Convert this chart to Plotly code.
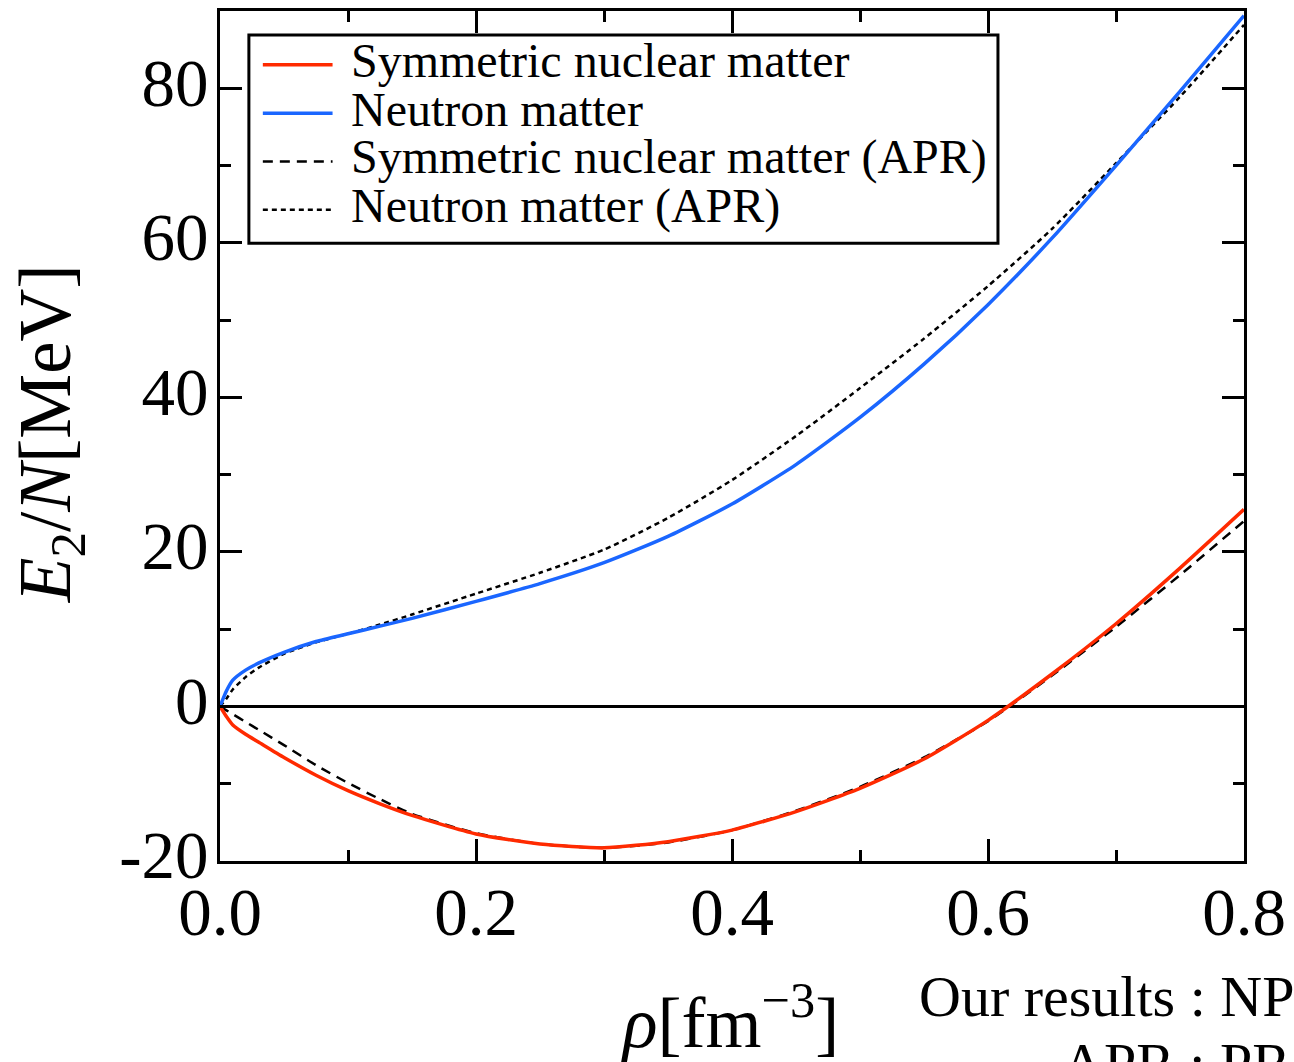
import plotly.graph_objects as go

# Density grid (fm^-3)
rho = [0.0, 0.005, 0.01, 0.02, 0.03, 0.05, 0.075, 0.1, 0.125, 0.15, 0.2, 0.25,
       0.3, 0.35, 0.4, 0.45, 0.5, 0.55, 0.6, 0.65, 0.7, 0.75, 0.8]

# Energy per nucleon E_2/N (MeV)
snm_ours = [0.0, -1.3, -2.4, -3.6, -4.6, -6.6, -8.9, -10.9, -12.6, -14.1, -16.5, -17.8,
            -18.3, -17.5, -16.0, -13.6, -10.6, -6.8, -1.8, 4.2, 10.7, 17.9, 25.5]
pnm_ours = [0.0, 2.0, 3.4, 4.7, 5.6, 7.0, 8.4, 9.4, 10.4, 11.4, 13.6, 15.9,
            18.6, 22.0, 26.2, 31.3, 37.4, 44.3, 52.0, 60.6, 70.0, 79.6, 89.4]
snm_apr = [0.0, -0.5, -1.0, -2.0, -3.0, -5.0, -7.6, -9.9, -12.0, -13.9, -16.4, -17.8,
           -18.3, -17.6, -16.0, -13.5, -10.4, -6.6, -1.9, 4.0, 10.3, 17.0, 24.0]
pnm_apr = [0.0, 1.0, 2.2, 3.8, 5.0, 6.8, 8.3, 9.4, 10.6, 11.9, 14.6, 17.3,
           20.3, 24.4, 29.3, 35.0, 41.2, 47.6, 54.4, 61.8, 70.3, 78.9, 88.2]

x_ticks = [0.0, 0.2, 0.4, 0.6, 0.8]
y_ticks = [-20, 0, 20, 40, 60, 80]
y_ticktext = ["-20", "0", "20", "40", "60", "80"]

series_names = ["Symmetric nuclear matter", "Neutron matter",
                "Symmetric nuclear matter (APR)", "Neutron matter (APR)"]

RED = "#ff2a00"
BLUE = "#1a66ff"
FONT = "Liberation Serif, Times New Roman, serif"

styles = [
    dict(color=RED, width=3.5, dash="solid"),
    dict(color=BLUE, width=3.5, dash="solid"),
    dict(color="black", width=2.5, dash="10px,7px"),
    dict(color="black", width=2.5, dash="5px,4px"),
]
series = [snm_ours, pnm_ours, snm_apr, pnm_apr]

fig = go.Figure()
# APR curves underneath, our results on top
for idx in [2, 3, 0, 1]:
    fig.add_trace(go.Scatter(
        x=rho, y=series[idx], mode="lines", name=series_names[idx],
        line=dict(shape="spline", smoothing=0.6, **styles[idx]),
        showlegend=False,
    ))

axis_common = dict(
    showline=True, linewidth=3, linecolor="black", mirror="ticks",
    ticks="inside", ticklen=22, tickwidth=3, tickcolor="black",
    showgrid=False,
    tickfont=dict(family=FONT, size=67, color="black"),
)

fig.update_xaxes(
    range=[0, 0.8], tickvals=x_ticks, tickformat=".1f", zeroline=False,
    minor=dict(dtick=0.1, tick0=0, ticks="inside", ticklen=11, tickwidth=3,
               tickcolor="black", showgrid=False),
    ticklabelstandoff=-9,
    **axis_common,
)
fig.update_yaxes(
    range=[-20, 90], tickvals=y_ticks, ticktext=y_ticktext,
    zeroline=True, zerolinecolor="black", zerolinewidth=3,
    minor=dict(dtick=10, tick0=0, ticks="inside", ticklen=11, tickwidth=3,
               tickcolor="black", showgrid=False),
    ticklabelstandoff=-5, ticklabelshift=-6,
    **axis_common,
)

# Plot-area geometry in pixels (for paper-coordinate placement)
L, R, T, B = 220, 1248, 8, 861
W, H = R - L, B - T


def px(x):
    return (x - L) / W


def py(y):
    return (B - y) / H


shapes = []
annotations = []

# Legend frame
shapes.append(dict(type="rect", xref="paper", yref="paper",
                   x0=px(249), x1=px(1001), y0=py(241), y1=py(32),
                   line=dict(color="black", width=3), fillcolor="white", layer="above"))
row_y = [62, 110.5, 159, 207.5]
for i, name in enumerate(series_names):
    st = styles[i]
    shapes.append(dict(type="line", xref="paper", yref="paper",
                       x0=px(263), x1=px(333), y0=py(row_y[i]), y1=py(row_y[i]),
                       line=dict(color=st["color"], width=st["width"], dash=st["dash"]),
                       layer="above"))
    annotations.append(dict(text=name, xref="paper", yref="paper",
                            x=px(350), y=py(row_y[i] - 4), xanchor="left", yanchor="middle",
                            showarrow=False,
                            font=dict(family=FONT, size=48, color="black")))

# Axis titles
annotations.append(dict(text="<i>ρ</i>[fm<sup>−3</sup>]", xref="paper", yref="paper",
                        x=px(732), y=py(1018), xanchor="center", yanchor="middle",
                        showarrow=False, font=dict(family=FONT, size=72, color="black")))
annotations.append(dict(text="<i>E</i><sub>2</sub>/<i>N</i>[MeV]", xref="paper", yref="paper",
                        x=px(50), y=py(432), xanchor="center", yanchor="middle",
                        textangle=-90, showarrow=False,
                        font=dict(family=FONT, size=73, color="black")))

# Caption lines at the lower right
annotations.append(dict(text="Our results : NP", xref="paper", yref="paper",
                        x=px(920), y=py(997), xanchor="left", yanchor="middle",
                        showarrow=False, font=dict(family=FONT, size=58, color="black")))
annotations.append(dict(text="APR : PR", xref="paper", yref="paper",
                        x=px(1063), y=py(1064), xanchor="left", yanchor="middle",
                        showarrow=False, font=dict(family=FONT, size=58, color="black")))

fig.update_layout(
    width=1294, height=1062,
    margin=dict(l=L, r=1294 - R, t=T, b=1062 - B, pad=0),
    plot_bgcolor="white", paper_bgcolor="white",
    font=dict(family=FONT, color="black"),
    shapes=shapes, annotations=annotations,
    showlegend=False,
)

fig.write_html("out.html")
